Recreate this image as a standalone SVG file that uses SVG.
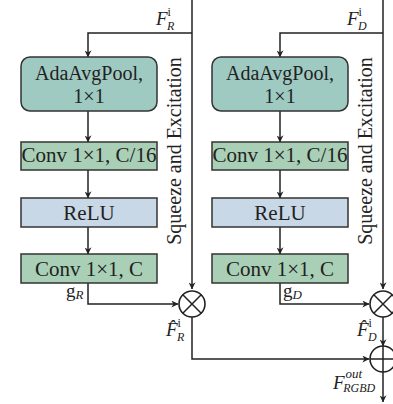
<svg xmlns="http://www.w3.org/2000/svg" width="393" height="404" viewBox="0 0 393 404">
<defs>
<marker id="arr" viewBox="0 0 10 10" refX="9.5" refY="5" markerWidth="7" markerHeight="7" markerUnits="userSpaceOnUse" orient="auto">
<path d="M0,0 L10,5 L0,10 L3,5 z" fill="#222"/>
</marker>
<style>
.ln{fill:none;stroke:#222;stroke-width:1.5}
.box{stroke:#333;stroke-width:1.5}
.pool{fill:#9fcac2}
.conv{fill:#a9d0b6}
.relu{fill:#c9d8e7}
.bt{font-family:"Liberation Serif",serif;font-size:21px;fill:#222;text-anchor:middle}
.pt{font-size:20px}
.se{font-family:"Liberation Serif",serif;font-size:20px;fill:#222;text-anchor:middle}
.m{font-family:"Liberation Serif",serif;fill:#222}
.mi{font-style:italic}
.op{fill:#fff;stroke:#222;stroke-width:1.6}
</style>
</defs>
<rect width="393" height="404" fill="#fff"/>
<g id="connectors">
<line class="ln" x1="192" y1="0" x2="192" y2="289" marker-end="url(#arr)"/>
<polyline class="ln" points="192,33 88,33 88,57" marker-end="url(#arr)"/>
<line class="ln" x1="88" y1="111" x2="88" y2="142" marker-end="url(#arr)"/>
<line class="ln" x1="88" y1="170" x2="88" y2="198" marker-end="url(#arr)"/>
<line class="ln" x1="88" y1="227" x2="88" y2="254" marker-end="url(#arr)"/>
<polyline class="ln" points="88,283 88,304 178,304" marker-end="url(#arr)"/>
<polyline class="ln" points="192,317 192,359 369,359" marker-end="url(#arr)"/>
<line class="ln" x1="383" y1="0" x2="383" y2="289" marker-end="url(#arr)"/>
<polyline class="ln" points="383,33 280,33 280,57" marker-end="url(#arr)"/>
<line class="ln" x1="280" y1="111" x2="280" y2="142" marker-end="url(#arr)"/>
<line class="ln" x1="280" y1="170" x2="280" y2="198" marker-end="url(#arr)"/>
<line class="ln" x1="280" y1="227" x2="280" y2="254" marker-end="url(#arr)"/>
<polyline class="ln" points="280,283 280,304 369,304" marker-end="url(#arr)"/>
<line class="ln" x1="383" y1="317" x2="383" y2="346" marker-end="url(#arr)"/>
<line class="ln" x1="383" y1="372" x2="383" y2="402" marker-end="url(#arr)"/>
</g>
<g id="pool_R"><rect class="box pool" x="21" y="57" width="136" height="54" rx="9"/><text class="bt pt" x="89" y="80">AdaAvgPool,</text><text class="bt pt" x="89" y="102.5">1×1</text></g>
<g id="conv1_R"><rect class="box conv" x="21" y="142" width="136" height="28"/><text class="bt" x="89" y="162">Conv 1×1, C/16</text></g>
<g id="relu_R"><rect class="box relu" x="21" y="198" width="136" height="29"/><text class="bt" x="89" y="220">ReLU</text></g>
<g id="conv2_R"><rect class="box conv" x="21" y="254" width="136" height="29"/><text class="bt" x="89" y="276">Conv 1×1, C</text></g>
<g id="pool_D"><rect class="box pool" x="212" y="57" width="136" height="54" rx="9"/><text class="bt pt" x="280" y="80">AdaAvgPool,</text><text class="bt pt" x="280" y="102.5">1×1</text></g>
<g id="conv1_D"><rect class="box conv" x="212" y="142" width="136" height="28"/><text class="bt" x="280" y="162">Conv 1×1, C/16</text></g>
<g id="relu_D"><rect class="box relu" x="212" y="198" width="136" height="29"/><text class="bt" x="280" y="220">ReLU</text></g>
<g id="conv2_D"><rect class="box conv" x="212" y="254" width="136" height="29"/><text class="bt" x="280" y="276">Conv 1×1, C</text></g>
<g id="mul_R"><circle class="op" cx="192" cy="304" r="13"/><path class="ln" d="M182.8,294.8 L201.2,313.2 M201.2,294.8 L182.8,313.2"/></g>
<g id="mul_D"><circle class="op" cx="383" cy="304" r="13"/><path class="ln" d="M373.8,294.8 L392.2,313.2 M392.2,294.8 L373.8,313.2"/></g>
<g id="add"><circle class="op" cx="383" cy="359" r="13"/><path class="ln" d="M370,359 L396,359 M383,346 L383,372"/></g>
<g id="labels">
<text class="se" transform="translate(181,151) rotate(-90)">Squeeze and Excitation</text>
<text class="se" transform="translate(372,151) rotate(-90)">Squeeze and Excitation</text>
<text class="m" x="156" y="25"><tspan class="mi" font-size="19">F</tspan><tspan font-size="12" dy="-9">i</tspan><tspan class="mi" font-size="12" dx="-4" dy="13.5">R</tspan></text>
<text class="m" x="347" y="25"><tspan class="mi" font-size="19">F</tspan><tspan font-size="12" dy="-9">i</tspan><tspan class="mi" font-size="12" dx="-4" dy="13.5">D</tspan></text>
<text class="m" x="66" y="297"><tspan font-size="19">g</tspan><tspan class="mi" font-size="13" dy="2">R</tspan></text>
<text class="m" x="283" y="297"><tspan font-size="19">g</tspan><tspan class="mi" font-size="13" dy="2">D</tspan></text>
<text class="m" x="166" y="336"><tspan class="mi" font-size="19">F̂</tspan><tspan font-size="12" dy="-9">i</tspan><tspan class="mi" font-size="12" dx="-4" dy="13.5">R</tspan></text>
<text class="m" x="357" y="336"><tspan class="mi" font-size="19">F̂</tspan><tspan font-size="12" dy="-9">i</tspan><tspan class="mi" font-size="12" dx="-4" dy="13.5">D</tspan></text>
<text class="m" x="333" y="389"><tspan class="mi" font-size="19">F</tspan><tspan class="mi" font-size="13" dx="1" dy="-11">out</tspan><tspan class="mi" font-size="12" dx="-19" dy="14">RGBD</tspan></text>
</g>
</svg>
